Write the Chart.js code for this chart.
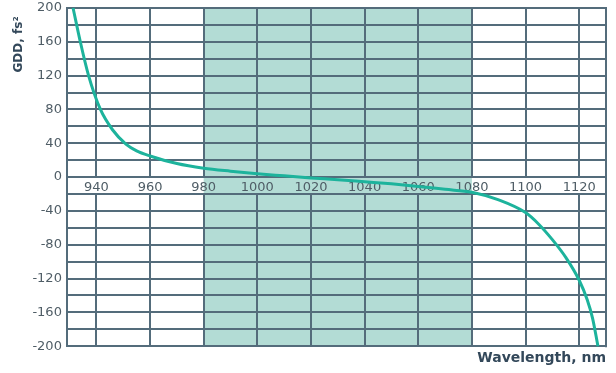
<!DOCTYPE html>
<html>
<head>
<meta charset="utf-8">
<script src="https://cdn.jsdelivr.net/npm/chart.js@4/dist/chart.umd.min.js"></script>
<style>
  html, body { margin: 0; padding: 0; background: #ffffff; }
  #wrap { width: 616px; height: 373px; }
</style>
</head>
<body>
<div id="wrap"><canvas id="gdd"></canvas></div>
<script>
// Group delay dispersion of the mirror versus wavelength
const wavelengths = [931.3, 934, 937, 941.5, 946, 951, 955, 960, 970, 980, 990, 1000, 1010,
                     1020, 1030, 1040, 1050, 1060, 1070, 1080, 1090, 1100, 1105, 1110, 1115,
                     1120, 1123, 1125, 1127];
const gddValues   = [200, 160, 121, 80, 56, 39, 31, 25, 16, 10.5, 7, 4, 1.5,
                     -1, -3, -5.5, -8, -11, -14.5, -18, -27, -42, -56, -74, -95,
                     -122, -145, -167, -200];
// Highlighted operating range, nm
const operatingBand = [980, 1080];
// Axis ranges, grid lines and labelled ticks
const xRange = [929, 1130];
const yRange = [-200, 200];
const xGridValues = [940, 960, 980, 1000, 1020, 1040, 1060, 1080, 1100, 1120];
const yGridValues = [-200, -180, -160, -140, -120, -100, -80, -60, -40, -20, 0,
                     20, 40, 60, 80, 100, 120, 140, 160, 180, 200];
const yLabelStep = 40;

const gridColor = '#546c7b';
const textColor = '#4f5d66';
const titleColor = '#33485a';
const tickFont = { family: "'DejaVu Sans', sans-serif", size: 13, lineHeight: 1.1 };

// Shaded operating band, painted underneath the grid
const bandPlugin = {
  id: 'operatingBand',
  beforeDraw(chart) {
    const { ctx, chartArea, scales } = chart;
    const x0 = scales.x.getPixelForValue(operatingBand[0]);
    const x1 = scales.x.getPixelForValue(operatingBand[1]);
    ctx.save();
    ctx.fillStyle = '#b3dcd5';
    ctx.fillRect(x0, chartArea.top, x1 - x0, chartArea.bottom - chartArea.top);
    ctx.restore();
  }
};

// Vertical grid lines, interrupted in the row holding the wavelength labels
const verticalGridPlugin = {
  id: 'verticalGrid',
  beforeDatasetsDraw(chart) {
    const { ctx, chartArea, scales } = chart;
    const yTop = scales.y.getPixelForValue(0);
    const yBot = scales.y.getPixelForValue(-20);
    ctx.save();
    ctx.strokeStyle = gridColor;
    ctx.lineWidth = 2;
    ctx.beginPath();
    scales.x.ticks.forEach(t => {
      const px = Math.round(scales.x.getPixelForValue(t.value));
      ctx.moveTo(px, chartArea.top);
      ctx.lineTo(px, yTop);
      ctx.moveTo(px, yBot);
      ctx.lineTo(px, chartArea.bottom);
    });
    ctx.moveTo(chartArea.right, chartArea.top - 1);
    ctx.lineTo(chartArea.right, chartArea.bottom + 1);
    ctx.stroke();
    ctx.restore();
  }
};

new Chart(document.getElementById('gdd'), {
  type: 'line',
  data: {
    datasets: [{
      data: wavelengths.map((w, i) => ({ x: w, y: gddValues[i] })),
      borderColor: '#1db39c',
      borderWidth: 3,
      pointRadius: 0,
      fill: false,
      cubicInterpolationMode: 'monotone',
      clip: 4
    }]
  },
  options: {
    responsive: true,
    maintainAspectRatio: false,
    animation: false,
    events: [],
    layout: { padding: { left: 12, right: 10, top: 0, bottom: 2 } },
    plugins: {
      legend: { display: false },
      tooltip: { enabled: false },
      title: {
        display: true,
        text: 'Wavelength, nm',
        position: 'bottom',
        align: 'end',
        color: titleColor,
        font: { family: "'DejaVu Sans', sans-serif", size: 14, weight: 'bold' },
        padding: { top: 4, bottom: 4 }
      }
    },
    scales: {
      x: {
        type: 'linear',
        position: { y: 0 },
        min: xRange[0],
        max: xRange[1],
        afterBuildTicks: axis => { axis.ticks = xGridValues.map(v => ({ value: v })); },
        grid: { display: false, drawTicks: false },
        border: { display: false },
        ticks: {
          autoSkip: false,
          maxRotation: 0,
          padding: 3,
          color: textColor,
          font: tickFont,
          callback: v => String(v)
        }
      },
      y: {
        type: 'linear',
        position: 'left',
        min: yRange[0],
        max: yRange[1],
        afterBuildTicks: axis => { axis.ticks = yGridValues.map(v => ({ value: v })); },
        afterFit: axis => { axis.paddingTop = 8; },
        grid: { color: gridColor, lineWidth: 2, drawTicks: false },
        border: { display: true, color: gridColor, width: 2 },
        ticks: {
          autoSkip: false,
          padding: 5,
          color: textColor,
          font: tickFont,
          callback: v => (v % yLabelStep === 0 ? String(v) : '')
        },
        title: {
          display: true,
          text: 'GDD, fs²  ',
          align: 'end',
          color: titleColor,
          font: { family: "'DejaVu Sans', sans-serif", size: 12, weight: 'bold' },
          padding: { top: 0, bottom: 1 }
        }
      }
    }
  },
  plugins: [bandPlugin, verticalGridPlugin]
});
</script>
</body>
</html>
